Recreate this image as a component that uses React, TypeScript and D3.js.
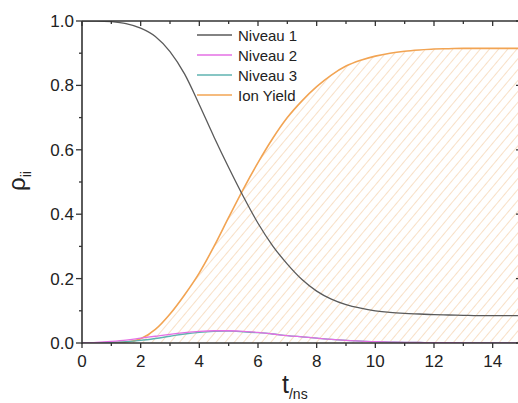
import React from "react";
import * as d3 from "d3";

// time axis, ns
const times = [0, 0.5, 1, 1.5, 2, 2.5, 3, 3.5, 4, 4.5, 5, 5.5, 6, 6.5, 7, 7.5, 8, 8.5, 9, 9.5, 10, 10.5, 11, 11.5, 12, 12.5, 13, 13.5, 14, 14.5, 15];

const niveau1 = [1.0, 1.0, 0.998, 0.992, 0.978, 0.952, 0.905, 0.835, 0.74, 0.64, 0.545, 0.455, 0.372, 0.302, 0.245, 0.197, 0.161, 0.136, 0.119, 0.108, 0.1, 0.095, 0.092, 0.09, 0.088, 0.087, 0.086, 0.085, 0.085, 0.085, 0.085];
const niveau2 = [0, 0.002, 0.005, 0.009, 0.015, 0.021, 0.027, 0.032, 0.036, 0.038, 0.038, 0.036, 0.033, 0.028, 0.023, 0.019, 0.015, 0.011, 0.008, 0.006, 0.004, 0.003, 0.002, 0.0015, 0.001, 0.001, 0.0005, 0.0005, 0, 0, 0];
const niveau3 = [0, 0.001, 0.002, 0.004, 0.008, 0.014, 0.021, 0.028, 0.033, 0.036, 0.037, 0.035, 0.032, 0.028, 0.023, 0.019, 0.015, 0.011, 0.008, 0.006, 0.004, 0.003, 0.002, 0.0015, 0.001, 0.001, 0.0005, 0.0005, 0, 0, 0];
const ionYield = [0, 0, 0.001, 0.003, 0.013, 0.042, 0.09, 0.15, 0.218, 0.3, 0.39, 0.478, 0.56, 0.635, 0.7, 0.752, 0.796, 0.832, 0.86, 0.878, 0.891, 0.9, 0.906, 0.91, 0.913, 0.914, 0.915, 0.915, 0.915, 0.915, 0.915];

const seriesNames = ["Niveau 1", "Niveau 2", "Niveau 3", "Ion Yield"];
const seriesColors = ["#5a5a5a", "#e46fe4", "#5fb3b0", "#f2a453"];

const xTicks = [0, 2, 4, 6, 8, 10, 12, 14];
const yTicks = [0, 0.2, 0.4, 0.6, 0.8, 1.0];

const W = 518;
const H = 403;
const left = 82;
const right = 522;
const top = 21;
const bottom = 343;
const font = "Arial, 'Liberation Sans', sans-serif";
const axisColor = "#333";

export default function App() {
  const x = d3.scaleLinear().domain([0, 15]).range([left, right]);
  const y = d3.scaleLinear().domain([0, 1]).range([bottom, top]);

  const line = (vals: number[]) =>
    d3
      .line<number>()
      .x((_, i) => x(times[i]))
      .y((v) => y(v))
      .curve(d3.curveMonotoneX)(vals) as string;

  const area = d3
    .area<number>()
    .x((_, i) => x(times[i]))
    .y0(y(0))
    .y1((v) => y(v))
    .curve(d3.curveMonotoneX)(ionYield) as string;

  const minorX = d3.range(0, 16, 1);
  const minorY = d3.range(0, 1.0001, 0.1);
  const series = [niveau1, niveau2, niveau3, ionYield];
  const drawOrder = [3, 2, 1, 0];

  return (
    <svg
      width={W}
      height={H}
      style={{ position: "absolute", left: 0, top: 0, background: "#fff" }}
    >
      <defs>
        <pattern id="hatch" patternUnits="userSpaceOnUse" width={7} height={7} patternTransform="rotate(40)">
          <line x1={0} y1={0} x2={0} y2={7} stroke="#f5cfa8" strokeWidth={1.3} />
        </pattern>
        <clipPath id="plotClip">
          <rect x={left} y={top} width={right - left} height={bottom - top} />
        </clipPath>
      </defs>

      <g clipPath="url(#plotClip)">
        <path d={area} fill="url(#hatch)" />
        {drawOrder.map((i) => (
          <path
            key={seriesNames[i]}
            d={line(series[i])}
            fill="none"
            stroke={seriesColors[i]}
            strokeWidth={i === 3 ? 1.6 : 1.3}
          />
        ))}
      </g>

      {/* frame */}
      <line x1={left} x2={left} y1={top} y2={bottom + 1} stroke={axisColor} strokeWidth={1.6} />
      <line x1={left} x2={right} y1={bottom} y2={bottom} stroke={axisColor} strokeWidth={1.6} />
      <line x1={left} x2={right} y1={top} y2={top} stroke={axisColor} strokeWidth={1.6} />
      <line x1={right} x2={right} y1={top} y2={bottom} stroke={axisColor} strokeWidth={1.6} />

      {/* x ticks */}
      {minorX.map((t) => {
        const major = t % 2 === 0;
        const len = major ? 5 : 3;
        return (
          <g key={"xt" + t}>
            <line x1={x(t)} x2={x(t)} y1={bottom} y2={bottom + len} stroke={axisColor} strokeWidth={1.3} />
            <line x1={x(t)} x2={x(t)} y1={top} y2={top + len} stroke={axisColor} strokeWidth={1.3} />
          </g>
        );
      })}
      {xTicks.map((t) => (
        <text key={"xl" + t} x={x(t)} y={367} textAnchor="middle" fontFamily={font} fontSize={17} fill="#222">
          {t}
        </text>
      ))}

      {/* y ticks */}
      {minorY.map((v, i) => {
        const major = i % 2 === 0;
        const len = major ? 6 : 3;
        return (
          <g key={"yt" + i}>
            <line x1={left - len} x2={left} y1={y(v)} y2={y(v)} stroke={axisColor} strokeWidth={1.3} />
            <line x1={right - len} x2={right} y1={y(v)} y2={y(v)} stroke={axisColor} strokeWidth={1.3} />
          </g>
        );
      })}
      {yTicks.map((v) => (
        <text key={"yl" + v} x={74} y={y(v) + 6} textAnchor="end" fontFamily={font} fontSize={17} fill="#222">
          {v.toFixed(1)}
        </text>
      ))}

      {/* axis titles */}
      <text transform="translate(25,181) rotate(-90)" fontFamily={font} fill="#222" textAnchor="middle">
        <tspan fontSize={24}>ρ</tspan>
        <tspan fontSize={14} dy={6}>ii</tspan>
      </text>
      <text x={282} y={393} fontFamily={font} fill="#222">
        <tspan fontSize={25}>t</tspan>
        <tspan fontSize={14} dy={6}>/ns</tspan>
      </text>

      {/* legend */}
      {seriesNames.map((name, i) => {
        const cy = 35 + i * 20;
        return (
          <g key={"lg" + name}>
            <line x1={197} x2={232} y1={cy} y2={cy} stroke={seriesColors[i]} strokeWidth={1.4} />
            <text x={238} y={cy + 5.5} fontFamily={font} fontSize={15} fill="#222">
              {name}
            </text>
          </g>
        );
      })}
    </svg>
  );
}
